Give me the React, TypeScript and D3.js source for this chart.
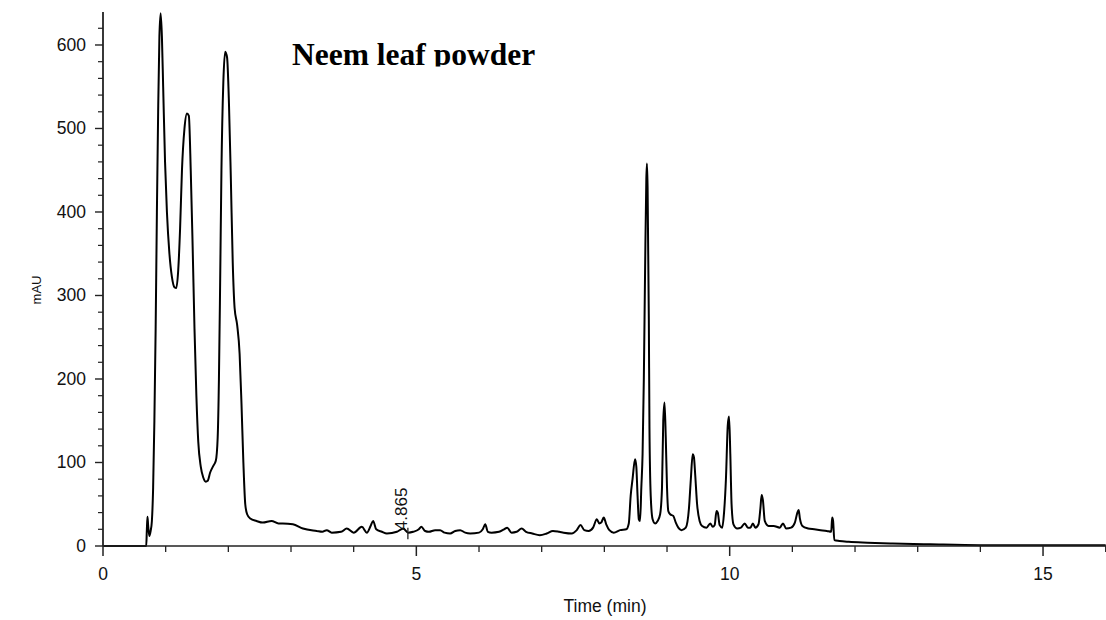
import React from "react";
import * as d3 from "d3";

// Retention time (min) and absorbance (mAU)
const timeMin: number[] = [
  0, 0.69, 0.70, 0.71, 0.72, 0.74, 0.76, 0.78, 0.80, 0.82, 0.84, 0.86, 0.88, 0.90, 0.92, 0.94, 0.96, 0.99,
  1.02, 1.06, 1.10, 1.14, 1.17, 1.20, 1.23, 1.26, 1.30, 1.34, 1.37, 1.40, 1.43, 1.46, 1.49, 1.52, 1.56,
  1.60, 1.64, 1.67, 1.71, 1.76, 1.80, 1.83, 1.85, 1.87, 1.89, 1.92, 1.95, 1.98, 2.01, 2.04, 2.07, 2.10,
  2.14, 2.18, 2.21, 2.24, 2.27, 2.30, 2.35, 2.45, 2.55, 2.69, 2.80, 2.87, 3.03, 3.19, 3.41, 3.50, 3.57,
  3.65, 3.80, 3.89, 4.00, 4.13, 4.21, 4.27, 4.31, 4.36, 4.45, 4.53, 4.69, 4.79, 4.87, 4.95, 5.04, 5.08,
  5.14, 5.20, 5.30, 5.38, 5.45, 5.54, 5.62, 5.70, 5.78, 5.86, 6.00, 6.06, 6.10, 6.14, 6.20, 6.32, 6.40,
  6.45, 6.52, 6.60, 6.68, 6.75, 6.85, 6.97, 7.08, 7.18, 7.28, 7.35, 7.48, 7.56, 7.62, 7.68, 7.75, 7.82,
  7.88, 7.92, 7.95, 7.99, 8.03, 8.08, 8.15, 8.25, 8.35, 8.39, 8.42, 8.45, 8.49, 8.51, 8.53, 8.55, 8.57,
  8.59, 8.61, 8.63, 8.65, 8.67, 8.68, 8.69, 8.71, 8.72, 8.74, 8.77, 8.81, 8.85, 8.89, 8.92, 8.94, 8.96,
  8.98, 9.00, 9.02, 9.05, 9.10, 9.14, 9.18, 9.23, 9.30, 9.35, 9.38, 9.41, 9.43, 9.45, 9.48, 9.52, 9.56,
  9.63, 9.69, 9.73, 9.76, 9.79, 9.81, 9.84, 9.88, 9.91, 9.94, 9.97, 9.99, 10.01, 10.03, 10.06, 10.12,
  10.18, 10.24, 10.29, 10.33, 10.37, 10.41, 10.46, 10.49, 10.51, 10.53, 10.56, 10.62, 10.70, 10.80,
  10.85, 10.90, 10.98, 11.04, 11.08, 11.10, 11.12, 11.16, 11.25, 11.35, 11.45, 11.55, 11.62, 11.635,
  11.65, 11.67, 11.75, 11.90, 12.20, 12.60, 13.20, 14.00, 16.00,
];
const absorbance: number[] = [
  0, 0, 20, 35, 25, 12, 18, 30, 70, 150, 260, 400, 520, 610, 638, 610, 550, 460,
  400, 350, 322, 310, 309, 330, 380, 450, 500, 518, 515, 450, 360, 260, 180, 125, 95,
  82, 77, 78, 88, 96, 102, 130, 200, 320, 450, 555, 592, 585, 530, 440, 340, 285,
  265, 230, 170, 100, 50, 38, 33, 30, 28, 30, 27, 27, 26, 21, 18, 17, 19,
  16, 17, 21, 16, 23, 16, 24, 30, 20, 17, 15, 17, 21, 16, 17, 20, 23,
  18, 17, 19, 19, 16, 15, 18, 19, 16, 15, 16, 20, 26, 17, 16, 17, 20,
  22, 16, 17, 21, 17, 15, 13, 15, 18, 17, 16, 15, 19, 25, 19, 18, 22,
  32, 27, 28, 34, 26, 19, 16, 19, 20, 27, 60, 80, 104, 95, 60, 32, 30,
  70, 110, 200, 330, 440, 458, 430, 270, 140, 60, 32, 27, 30, 38, 70, 150, 172,
  130, 70, 42, 38, 36, 28, 22, 19, 22, 45, 80, 110, 106, 85, 50, 30, 24,
  22, 27, 23, 25, 42, 40, 25, 22, 40, 80, 145, 155, 110, 50, 26, 21,
  22, 27, 22, 22, 27, 22, 26, 45, 61, 55, 30, 24, 24, 22,
  27, 21, 22, 28, 40, 43, 33, 24, 21, 20, 19, 18, 17, 34,
  30, 7, 6, 5, 4, 3, 2, 1, 1,
];

const xMajorTicks: number[] = [0, 5, 10, 15];
const xMinorTicks: number[] = [1, 2, 3, 4, 6, 7, 8, 9, 11, 12, 13, 14, 16];
const yMajorTicks: number[] = [0, 100, 200, 300, 400, 500, 600];
const yMinorTicks: number[] = [20, 40, 60, 80, 120, 140, 160, 180, 220, 240, 260, 280, 320, 340, 360, 380, 420, 440, 460, 480, 520, 540, 560, 580, 620];
const peakLabelTimes: number[] = [4.865];
const peakLabelTexts: string[] = ["4.865"];

const title = "Neem leaf powder";
const xTitle = "Time (min)";
const yTitle = "mAU";

export default function App() {
  const W = 1106, H = 620;
  const x = d3.scaleLinear().domain([0, 16]).range([103, 1105.7]);
  const y = d3.scaleLinear().domain([0, 639.5]).range([546, 12]);
  const pts = timeMin.map((t, i) => [t, absorbance[i]] as [number, number]);
  const line = d3.line<[number, number]>().x(d => x(d[0])).y(d => y(d[1])).curve(d3.curveMonotoneX);
  const font = "'Liberation Sans', Arial, sans-serif";
  const x0 = x(0), y0 = y(0);
  return (
    <svg width={W} height={H} style={{ position: "absolute", left: 0, top: 0, background: "#fff" }}>
      <defs>
        <clipPath id="titleClip"><rect x={0} y={0} width={W} height={66.5} /></clipPath>
      </defs>
      <rect x={0} y={0} width={W} height={H} fill="#fff" />
      {/* trace */}
      <path d={line(pts) || ""} fill="none" stroke="#000" strokeWidth={2} strokeLinejoin="round" />
      {/* axes */}
      <line x1={x0} x2={W} y1={y0} y2={y0} stroke="#222" strokeWidth={1.5} />
      <line x1={x0} x2={x0} y1={y(639.5)} y2={y0} stroke="#222" strokeWidth={1.8} />
      {xMajorTicks.map(t => (
        <g key={"xM" + t}>
          <line x1={x(t)} x2={x(t)} y1={y0} y2={y0 + 10} stroke="#222" strokeWidth={1.5} />
          <text x={x(t)} y={580} textAnchor="middle" fontFamily={font} fontSize={17.5} fill="#111">{t}</text>
        </g>
      ))}
      {xMinorTicks.map(t => (
        <line key={"xm" + t} x1={x(t)} x2={x(t)} y1={y0} y2={y0 + 6} stroke="#222" strokeWidth={1.3} />
      ))}
      {yMajorTicks.map(v => (
        <g key={"yM" + v}>
          <line x1={x0 - 8} x2={x0} y1={y(v)} y2={y(v)} stroke="#222" strokeWidth={1.4} />
          <text x={86} y={y(v) + 6} textAnchor="end" fontFamily={font} fontSize={17.5} fill="#111">{v}</text>
        </g>
      ))}
      {yMinorTicks.map(v => (
        <line key={"ym" + v} x1={x0 - 5} x2={x0} y1={y(v)} y2={y(v)} stroke="#222" strokeWidth={1.2} />
      ))}
      {/* axis titles */}
      <text x={605} y={612} textAnchor="middle" fontFamily={font} fontSize={17.5} fill="#111">{xTitle}</text>
      <text transform={`translate(41, ${290}) rotate(-90)`} textAnchor="middle" fontFamily={font} fontSize={13} fill="#111">{yTitle}</text>
      {/* peak labels */}
      {peakLabelTimes.map((t, i) => (
        <g key={"pl" + i}>
          <line x1={x(t)} x2={x(t)} y1={y(22)} y2={y(8)} stroke="#222" strokeWidth={1.3} />
          <text transform={`translate(${x(t) - 1}, ${y(19)}) rotate(-90)`} textAnchor="start" fontFamily={font} fontSize={17} fill="#111">{peakLabelTexts[i]}</text>
        </g>
      ))}
      {/* title */}
      <g clipPath="url(#titleClip)">
        <text x={292} y={65} fontFamily="'Liberation Serif', 'Times New Roman', serif" fontWeight="bold" fontSize={31.5} fill="#000">{title}</text>
      </g>
    </svg>
  );
}
